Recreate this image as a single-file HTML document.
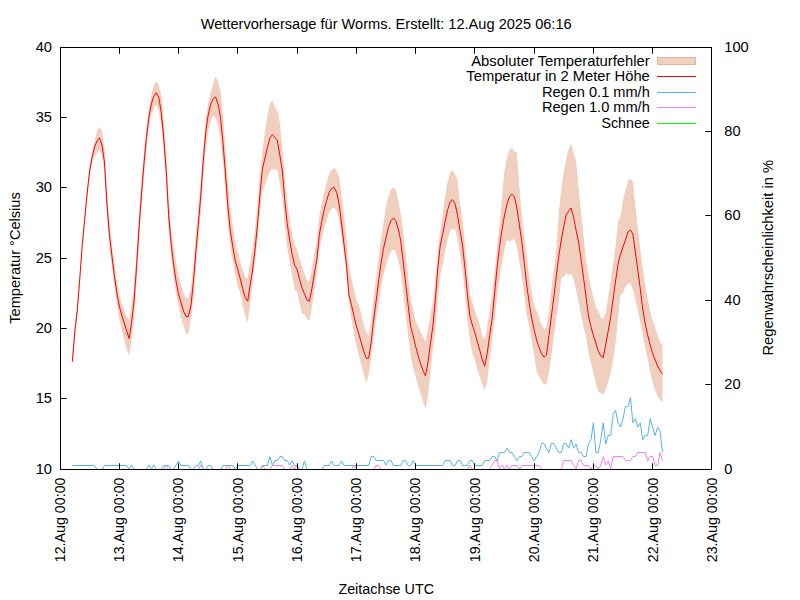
<!DOCTYPE html>
<html lang="de">
<head>
<meta charset="utf-8">
<title>Wettervorhersage für Worms</title>
<style>
html,body{margin:0;padding:0;background:#fff;}
body{width:800px;height:600px;overflow:hidden;font-family:"Liberation Sans",sans-serif;}
svg{display:block;}
svg text{font-family:"Liberation Sans",sans-serif;fill:#000;}
.ln{fill:none;stroke-width:1;stroke-linejoin:miter;stroke-linecap:butt;}
</style>
</head>
<body>
<svg width="800" height="600" viewBox="0 0 800 600">
<rect width="800" height="600" fill="#ffffff"/>
<!-- Absoluter Temperaturfehler -->
<polygon points="72.35,355.60 74.82,326.40 77.29,304.97 79.76,274.03 82.23,240.90 84.70,214.95 87.17,189.07 89.64,167.00 92.10,153.00 94.57,142.00 97.04,130.00 99.51,127.00 101.98,131.00 104.45,148.13 106.92,189.63 109.39,221.63 111.86,243.13 114.33,263.33 116.80,281.03 119.27,294.87 121.74,304.00 124.21,311.00 126.67,317.00 129.14,320.00 131.61,304.33 134.08,283.73 136.55,250.77 139.02,213.69 141.49,181.11 143.96,152.46 146.43,127.52 148.90,108.42 151.37,95.00 153.84,84.40 156.31,81.50 158.78,84.40 161.25,95.00 163.71,119.76 166.18,152.59 168.65,197.22 171.12,225.50 173.59,246.15 176.06,262.80 178.53,275.55 181.00,284.02 183.47,292.50 185.94,298.00 188.41,298.00 190.88,287.73 193.35,264.94 195.82,235.32 198.29,208.87 200.75,181.32 203.22,147.50 205.69,119.77 208.16,102.87 210.63,92.50 213.10,83.75 215.57,76.25 218.04,82.00 220.51,91.00 222.98,116.00 225.45,147.22 227.92,182.53 230.39,208.72 232.86,226.57 235.32,242.60 237.79,252.12 240.26,262.00 242.73,269.40 245.20,277.00 247.67,278.50 250.14,262.55 252.61,248.29 255.08,228.21 257.55,204.35 260.02,174.07 262.49,150.00 264.96,132.00 267.43,116.00 269.90,103.75 272.36,100.25 274.83,107.50 277.30,110.60 279.77,122.00 282.24,147.50 284.71,177.71 287.18,202.51 289.65,219.30 292.12,234.14 294.59,244.87 297.06,249.37 299.53,258.75 302.00,266.00 304.47,273.75 306.94,280.60 309.40,281.00 311.87,268.67 314.34,254.08 316.81,240.88 319.28,216.42 321.75,203.33 324.22,191.50 326.69,182.50 329.16,173.50 331.63,169.75 334.10,167.80 336.57,170.50 339.04,176.50 341.51,194.50 343.98,215.67 346.44,236.98 348.91,267.68 351.38,277.74 353.85,289.28 356.32,299.75 358.79,304.50 361.26,314.00 363.73,325.00 366.20,331.40 368.67,335.85 371.14,319.99 373.61,297.58 376.08,278.20 378.55,258.17 381.01,239.41 383.48,223.00 385.95,206.50 388.42,196.00 390.89,189.25 393.36,187.30 395.83,190.00 398.30,201.25 400.77,214.00 403.24,232.00 405.71,254.69 408.18,277.05 410.65,299.35 413.12,310.01 415.59,320.80 418.05,326.30 420.52,331.90 422.99,336.60 425.46,341.40 427.93,329.89 430.40,314.66 432.87,302.05 435.34,280.02 437.81,252.47 440.28,230.80 442.75,213.80 445.22,195.40 447.69,181.20 450.16,172.75 452.62,170.20 455.09,174.90 457.56,179.80 460.03,203.90 462.50,219.50 464.97,243.68 467.44,271.29 469.91,293.43 472.38,303.03 474.85,310.75 477.32,317.50 479.79,325.00 482.26,335.50 484.73,339.25 487.20,327.01 489.66,310.29 492.13,295.45 494.60,271.22 497.07,247.09 499.54,226.20 502.01,196.80 504.48,170.25 506.95,158.30 509.42,150.00 511.89,147.70 514.36,151.40 516.83,152.50 519.30,185.80 521.77,215.20 524.24,237.20 526.70,255.00 529.17,276.00 531.64,292.50 534.11,305.60 536.58,310.75 539.05,317.50 541.52,325.00 543.99,328.75 546.46,328.00 548.93,310.00 551.40,288.75 553.87,268.75 556.34,250.00 558.81,212.00 561.27,190.00 563.74,171.70 566.21,158.80 568.68,148.75 571.15,143.80 573.62,153.30 576.09,160.70 578.56,188.20 581.03,212.00 583.50,236.00 585.97,260.00 588.44,275.00 590.91,286.25 593.38,297.50 595.85,307.50 598.31,311.00 600.78,317.50 603.25,319.00 605.72,312.50 608.19,297.50 610.66,281.50 613.13,263.50 615.60,245.00 618.07,222.00 620.54,216.00 623.01,200.00 625.48,190.00 627.95,181.00 630.42,178.50 632.89,182.00 635.35,205.00 637.82,228.00 640.29,249.00 642.76,268.70 645.23,284.70 647.70,299.30 650.17,310.80 652.64,320.00 655.11,327.30 657.58,335.30 660.05,342.00 662.52,344.70 662.52,402.50 660.05,400.00 657.58,396.00 655.11,390.00 652.64,382.00 650.17,372.00 647.70,359.30 645.23,347.30 642.76,334.80 640.29,322.00 637.82,310.00 635.35,299.30 632.89,290.00 630.42,283.00 627.95,283.60 625.48,286.50 623.01,292.70 620.54,294.00 618.07,319.00 615.60,343.00 613.13,360.00 610.66,373.00 608.19,382.00 605.72,389.50 603.25,394.75 600.78,393.25 598.31,391.75 595.85,383.50 593.38,373.00 590.91,362.50 588.44,352.00 585.97,337.00 583.50,326.50 581.03,315.00 578.56,302.50 576.09,290.00 573.62,278.75 571.15,273.50 568.68,275.00 566.21,273.50 563.74,276.60 561.27,278.10 558.81,302.50 556.34,317.00 553.87,337.00 551.40,355.00 548.93,373.00 546.46,383.50 543.99,385.00 541.52,380.50 539.05,376.00 536.58,371.50 534.11,355.00 531.64,340.00 529.17,326.50 526.70,314.50 524.24,295.30 521.77,276.69 519.30,261.50 516.83,247.16 514.36,239.00 511.89,240.50 509.42,241.20 506.95,240.00 504.48,250.00 502.01,263.17 499.54,277.83 497.07,296.80 494.60,319.00 492.13,338.50 489.66,359.50 487.20,382.00 484.73,390.25 482.26,384.25 479.79,376.75 477.32,369.25 474.85,359.50 472.38,353.50 469.91,340.00 467.44,320.50 464.97,293.64 462.50,269.94 460.03,255.16 457.56,239.30 455.09,229.40 452.62,229.10 450.16,230.80 447.69,239.30 445.22,250.74 442.75,263.65 440.28,275.02 437.81,298.21 435.34,329.50 432.87,350.00 430.40,372.25 427.93,397.60 425.46,408.70 422.99,401.50 420.52,393.60 418.05,384.90 415.59,376.20 413.12,367.50 410.65,355.60 408.18,335.80 405.71,314.88 403.24,292.89 400.77,272.06 398.30,260.17 395.83,251.98 393.36,249.25 390.89,251.61 388.42,257.27 385.95,266.12 383.48,274.54 381.01,287.55 378.55,303.00 376.08,318.75 373.61,337.75 371.14,358.30 368.67,374.20 366.20,383.30 363.73,374.20 361.26,364.70 358.79,355.20 356.32,345.70 353.85,333.00 351.38,318.75 348.91,301.30 346.44,272.22 343.98,253.96 341.51,236.29 339.04,219.99 336.57,211.00 334.10,207.25 331.63,208.75 329.16,212.50 326.69,220.00 324.22,227.70 321.75,238.00 319.28,250.03 316.81,274.40 314.34,290.60 311.87,307.50 309.40,320.60 306.94,319.00 304.47,314.40 302.00,313.50 299.53,303.75 297.06,291.00 294.59,290.00 292.12,275.00 289.65,262.50 287.18,247.83 284.71,225.09 282.24,197.04 279.77,183.44 277.30,170.26 274.83,169.40 272.36,169.25 269.90,171.47 267.43,178.29 264.96,185.03 262.49,191.47 260.02,211.53 257.55,238.79 255.08,260.97 252.61,281.00 250.14,303.75 247.67,323.00 245.20,315.00 242.73,305.60 240.26,292.75 237.79,287.00 235.32,275.00 232.86,261.27 230.39,246.56 227.92,223.75 225.45,191.48 222.98,162.39 220.51,138.55 218.04,125.00 215.57,118.00 213.10,115.60 210.63,121.03 208.16,131.72 205.69,149.35 203.22,178.11 200.75,213.11 198.29,241.89 195.82,269.47 193.35,300.00 190.88,319.00 188.41,334.00 185.94,333.50 183.47,326.00 181.00,317.00 178.53,306.00 176.06,294.00 173.59,277.48 171.12,256.89 168.65,228.62 166.18,183.91 163.71,150.95 161.25,125.99 158.78,111.00 156.31,104.40 153.84,108.75 151.37,113.75 148.90,127.82 146.43,148.67 143.96,176.12 141.49,207.67 139.02,243.25 136.55,283.07 134.08,318.18 131.61,340.00 129.14,356.00 126.67,349.00 124.21,340.00 121.74,330.00 119.27,319.00 116.80,302.50 114.33,285.33 111.86,265.82 109.39,245.09 106.92,213.84 104.45,173.00 101.98,156.34 99.51,149.50 97.04,153.00 94.57,156.00 92.10,163.00 89.64,175.00 87.17,197.12 84.70,223.17 82.23,249.45 79.76,283.09 77.29,314.75 74.82,337.16 72.35,367.60" fill="#f0cfbf"/>
<!-- Temperatur in 2 Meter Höhe -->
<polyline class="ln" stroke="#ff0000" points="72.35,361.60 74.82,331.90 77.29,310.02 79.76,278.72 82.23,245.29 84.70,219.13 87.17,193.12 89.64,171.00 92.10,157.00 94.57,147.00 97.04,140.80 99.51,137.80 101.98,145.00 104.45,162.00 106.92,203.16 109.39,234.68 111.86,255.63 114.33,275.28 116.80,292.50 119.27,306.00 121.74,315.00 124.21,323.00 126.67,331.00 129.14,338.50 131.61,322.50 134.08,301.00 136.55,266.74 139.02,228.13 141.49,193.92 143.96,163.74 146.43,137.50 148.90,117.50 151.37,103.75 153.84,96.30 156.31,92.75 158.78,97.50 161.25,112.50 163.71,137.50 166.18,170.53 168.65,215.33 171.12,243.73 173.59,264.49 176.06,281.20 178.53,294.00 181.00,302.50 183.47,311.00 185.94,316.50 188.41,316.50 190.88,306.00 193.35,282.60 195.82,252.10 198.29,224.62 200.75,195.97 203.22,161.12 205.69,132.50 208.16,115.00 210.63,104.40 213.10,99.00 215.57,96.90 218.04,103.75 220.51,117.71 222.98,142.62 225.45,173.19 227.92,207.05 230.39,231.32 232.86,247.11 235.32,261.25 237.79,269.40 240.26,278.75 242.73,288.75 245.20,297.50 247.67,301.25 250.14,285.00 252.61,270.00 255.08,248.96 257.55,224.13 260.02,193.12 262.49,168.75 264.96,158.00 267.43,147.50 269.90,138.00 272.36,134.75 274.83,137.50 277.30,140.25 279.77,155.00 282.24,170.00 284.71,199.41 287.18,223.59 289.65,239.93 292.12,254.46 294.59,265.00 297.06,269.40 299.53,278.75 302.00,288.00 304.47,293.75 306.94,300.00 309.40,301.25 311.87,288.75 314.34,273.75 316.81,260.00 319.28,235.00 321.75,221.50 324.22,209.50 326.69,200.50 329.16,192.25 331.63,188.50 334.10,187.30 336.57,192.25 339.04,203.50 341.51,223.00 343.98,244.00 346.44,264.87 348.91,295.00 351.38,304.50 353.85,315.60 356.32,325.90 358.79,333.80 361.26,342.50 363.73,351.20 366.20,358.30 368.67,358.30 371.14,342.50 373.61,320.30 376.08,301.30 378.55,281.83 381.01,263.87 383.48,248.50 385.95,238.00 388.42,227.50 390.89,220.75 393.36,218.00 395.83,220.75 398.30,229.00 400.77,241.00 403.24,262.00 405.71,284.20 408.18,305.40 410.65,326.30 413.12,335.80 415.59,346.10 418.05,355.60 420.52,363.50 422.99,370.70 425.46,375.70 427.93,362.70 430.40,343.75 432.87,326.30 435.34,299.43 437.81,268.16 440.28,245.00 442.75,233.70 445.22,220.90 447.69,209.60 450.16,201.80 452.62,199.70 455.09,203.90 457.56,215.20 460.03,230.80 462.50,245.00 464.97,268.12 467.44,294.71 469.91,316.00 472.38,325.00 474.85,332.50 477.32,341.50 479.79,350.50 482.26,359.50 484.73,366.25 487.20,353.50 489.66,335.50 492.13,319.00 494.60,293.11 497.07,267.70 499.54,246.30 502.01,229.80 504.48,215.20 506.95,204.20 509.42,196.80 511.89,194.10 514.36,196.80 516.83,207.80 519.30,224.30 521.77,241.50 524.24,262.50 526.70,285.00 529.17,303.00 531.64,318.00 534.11,329.50 536.58,340.00 539.05,347.50 541.52,353.50 543.99,357.25 546.46,355.00 548.93,335.50 551.40,316.00 553.87,297.00 556.34,276.25 558.81,256.25 561.27,240.00 563.74,226.70 566.21,214.75 568.68,211.10 571.15,208.00 573.62,217.50 576.09,230.30 578.56,242.00 581.03,258.75 583.50,277.50 585.97,296.25 588.44,316.00 590.91,326.50 593.38,335.50 595.85,343.00 598.31,351.25 600.78,355.75 603.25,357.70 605.72,344.50 608.19,331.00 610.66,317.00 613.13,299.00 615.60,281.00 618.07,264.00 620.54,254.00 623.01,247.00 625.48,240.00 627.95,232.00 630.42,230.00 632.89,234.00 635.35,252.00 637.82,270.00 640.29,289.00 642.76,309.00 645.23,324.00 647.70,335.30 650.17,345.00 652.64,353.50 655.11,360.00 657.58,366.00 660.05,370.50 662.52,374.30"/>
<!-- Regen 0.1 mm/h -->
<polyline class="ln" stroke="#56b4e9" points="72.35,465.50 94.57,465.50 97.04,469.50 101.98,469.50 104.45,465.50 126.67,465.50 129.14,469.30 131.61,465.08 134.08,469.50 146.43,469.50 148.90,465.08 151.37,469.30 153.84,465.08 156.31,469.50 161.25,469.50 163.71,465.50 168.65,465.50 171.12,469.50 173.59,469.50 176.06,465.08 178.53,460.86 181.00,465.50 188.41,465.50 190.88,469.50 193.35,469.50 195.82,465.50 198.29,465.50 200.75,460.86 203.22,469.50 205.69,469.50 208.16,465.50 210.63,465.50 213.10,469.50 220.51,469.50 222.98,465.50 232.86,465.50 235.32,469.30 237.79,465.50 250.14,465.50 252.61,460.86 255.08,465.08 257.55,469.50 260.02,469.50 262.49,465.50 267.43,465.50 269.90,456.64 272.36,465.08 274.83,460.50 277.30,460.50 279.77,456.50 282.24,456.50 284.71,460.50 287.18,460.50 289.65,465.08 292.12,460.86 294.59,465.50 297.06,465.50 299.53,469.50 302.00,469.50 304.47,460.86 306.94,469.50 321.75,469.50 324.22,465.50 329.16,465.50 331.63,460.86 334.10,465.50 339.04,465.50 341.51,460.86 343.98,465.50 368.67,465.50 371.14,456.50 373.61,456.50 376.08,460.50 383.48,460.50 385.95,465.08 388.42,460.50 390.89,460.50 393.36,465.50 400.77,465.50 403.24,460.50 405.71,460.50 408.18,465.50 410.65,465.50 413.12,460.86 415.59,465.50 442.75,465.50 445.22,460.50 450.16,460.50 452.62,465.50 455.09,465.50 457.56,460.50 460.03,460.50 462.50,465.50 467.44,465.50 469.91,460.50 472.38,460.50 474.85,465.50 482.26,465.50 484.73,460.50 489.66,460.50 492.13,456.50 494.60,456.50 497.07,460.86 499.54,452.50 504.48,452.50 506.95,448.20 509.42,452.50 511.89,452.50 514.36,456.64 516.83,460.86 519.30,456.50 521.77,456.50 524.24,452.50 529.17,452.50 531.64,456.64 534.11,460.86 536.58,456.64 539.05,452.42 541.52,443.50 543.99,443.50 546.46,448.20 548.93,452.42 551.40,443.50 553.87,443.50 556.34,448.20 558.81,452.50 561.27,452.50 563.74,443.50 566.21,443.50 568.68,448.20 571.15,439.76 573.62,448.20 576.09,443.98 578.56,452.50 581.03,452.50 583.50,456.50 585.97,456.50 588.44,443.98 590.91,439.76 593.38,422.88 595.85,452.50 598.31,452.50 600.78,439.76 603.25,422.88 605.72,443.98 608.19,435.50 610.66,435.50 613.13,414.44 615.60,410.22 618.07,422.88 620.54,427.10 623.01,418.66 625.48,406.50 627.95,406.50 630.42,397.56 632.89,422.88 635.35,418.66 637.82,427.10 640.29,422.88 642.76,439.76 645.23,435.50 647.70,435.50 650.17,418.66 652.64,427.10 655.11,435.54 657.58,427.10 660.05,431.32 662.52,452.42"/>
<!-- Regen 1.0 mm/h -->
<polyline class="ln" stroke="#ee82ee" points="72.35,469.50 163.71,469.50 166.18,465.08 168.65,469.50 198.29,469.50 200.75,465.08 203.22,469.50 225.45,469.50 227.92,465.08 230.39,469.50 260.02,469.50 262.49,465.08 264.96,469.50 269.90,469.50 272.36,465.50 282.24,465.50 284.71,469.50 289.65,469.50 292.12,465.08 294.59,469.30 297.06,465.08 299.53,469.50 351.38,469.50 353.85,465.08 356.32,469.50 373.61,469.50 376.08,465.50 378.55,465.50 381.01,469.50 467.44,469.50 469.91,465.08 472.38,469.50 489.66,469.50 492.13,465.08 494.60,460.50 497.07,460.50 499.54,469.30 502.01,465.08 504.48,469.30 506.95,465.08 509.42,469.30 511.89,465.50 516.83,465.50 519.30,469.30 521.77,465.50 539.05,465.50 541.52,469.50 561.27,469.50 563.74,460.50 571.15,460.50 573.62,465.08 576.09,469.30 578.56,460.50 581.03,460.50 583.50,465.50 588.44,465.50 590.91,469.30 593.38,465.50 595.85,465.50 598.31,469.30 600.78,465.08 603.25,456.64 605.72,465.08 608.19,460.86 610.66,469.30 613.13,456.50 623.01,456.50 625.48,460.50 630.42,460.50 632.89,456.50 635.35,456.50 637.82,452.50 645.23,452.50 647.70,460.86 650.17,456.50 652.64,456.50 655.11,465.50 657.58,465.50 660.05,452.42 662.52,460.86"/>
<!-- Schnee -->
<polyline class="ln" stroke="#00ff00" points="72.35,469.50 662.52,469.50"/>
<!-- Legende -->
<rect x="657.5" y="57.5" width="38" height="7" fill="#f0cfbf" stroke="#e4b59c" stroke-width="1"/>
<path class="ln" stroke="#ff0000" d="M657 76.5H696"/>
<path class="ln" stroke="#56b4e9" d="M657 92.5H696"/>
<path class="ln" stroke="#ee82ee" d="M657 107.5H696"/>
<path class="ln" stroke="#00ff00" d="M657 123.5H696"/>
<!-- Achsen -->
<path class="ln" stroke="#000" d="M119.5 469.5v-6.2M119.5 47.5v6.2M178.5 469.5v-6.2M178.5 47.5v6.2M237.5 469.5v-6.2M237.5 47.5v6.2M297.5 469.5v-6.2M297.5 47.5v6.2M356.5 469.5v-6.2M356.5 47.5v6.2M415.5 469.5v-6.2M415.5 47.5v6.2M474.5 469.5v-6.2M474.5 47.5v6.2M534.5 469.5v-6.2M534.5 47.5v6.2M593.5 469.5v-6.2M593.5 47.5v6.2M652.5 469.5v-6.2M652.5 47.5v6.2M60.5 117.5h6.2M60.5 187.5h6.2M60.5 258.5h6.2M60.5 328.5h6.2M60.5 398.5h6.2M711.5 131.5h-6.2M711.5 215.5h-6.2M711.5 300.5h-6.2M711.5 384.5h-6.2"/>
<rect x="60.5" y="47.5" width="651.0" height="422.0" fill="none" stroke="#000" stroke-width="1" shape-rendering="crispEdges"/>
<g>
<text transform="translate(386.20 28.50) scale(1.0285 1)" text-anchor="middle" font-size="14.20">Wettervorhersage für Worms. Erstellt: 12.Aug 2025 06:16</text>
<text transform="translate(386.20 594.20) scale(1.0110 1)" text-anchor="middle" font-size="14.20">Zeitachse UTC</text>
<text transform="translate(19.90 258.00) rotate(-90) scale(1.0285 1)" text-anchor="middle" font-size="14.20">Temperatur °Celsius</text>
<text transform="translate(772.90 257.70) rotate(-90) scale(1.0380 1)" text-anchor="middle" font-size="14.20">Regenwahrscheinlichkeit in %</text>
<text transform="translate(52.00 52.40) scale(1.0320 1)" text-anchor="end" font-size="14.20">40</text>
<text transform="translate(52.00 122.40) scale(1.0320 1)" text-anchor="end" font-size="14.20">35</text>
<text transform="translate(52.00 192.40) scale(1.0320 1)" text-anchor="end" font-size="14.20">30</text>
<text transform="translate(52.00 263.40) scale(1.0320 1)" text-anchor="end" font-size="14.20">25</text>
<text transform="translate(52.00 333.40) scale(1.0320 1)" text-anchor="end" font-size="14.20">20</text>
<text transform="translate(52.00 403.40) scale(1.0320 1)" text-anchor="end" font-size="14.20">15</text>
<text transform="translate(52.00 474.40) scale(1.0320 1)" text-anchor="end" font-size="14.20">10</text>
<text transform="translate(724.30 52.40) scale(1.0320 1)" text-anchor="start" font-size="14.20">100</text>
<text transform="translate(724.30 136.40) scale(1.0320 1)" text-anchor="start" font-size="14.20">80</text>
<text transform="translate(724.30 220.40) scale(1.0320 1)" text-anchor="start" font-size="14.20">60</text>
<text transform="translate(724.30 305.40) scale(1.0320 1)" text-anchor="start" font-size="14.20">40</text>
<text transform="translate(724.30 389.40) scale(1.0320 1)" text-anchor="start" font-size="14.20">20</text>
<text transform="translate(724.30 474.40) scale(1.0320 1)" text-anchor="start" font-size="14.20">0</text>
<text transform="translate(64.90 477.50) rotate(-90) scale(1.0030 1)" text-anchor="end" font-size="14.20">12.Aug 00:00</text>
<text transform="translate(124.16 477.50) rotate(-90) scale(1.0030 1)" text-anchor="end" font-size="14.20">13.Aug 00:00</text>
<text transform="translate(183.43 477.50) rotate(-90) scale(1.0030 1)" text-anchor="end" font-size="14.20">14.Aug 00:00</text>
<text transform="translate(242.69 477.50) rotate(-90) scale(1.0030 1)" text-anchor="end" font-size="14.20">15.Aug 00:00</text>
<text transform="translate(301.95 477.50) rotate(-90) scale(1.0030 1)" text-anchor="end" font-size="14.20">16.Aug 00:00</text>
<text transform="translate(361.22 477.50) rotate(-90) scale(1.0030 1)" text-anchor="end" font-size="14.20">17.Aug 00:00</text>
<text transform="translate(420.48 477.50) rotate(-90) scale(1.0030 1)" text-anchor="end" font-size="14.20">18.Aug 00:00</text>
<text transform="translate(479.75 477.50) rotate(-90) scale(1.0030 1)" text-anchor="end" font-size="14.20">19.Aug 00:00</text>
<text transform="translate(539.01 477.50) rotate(-90) scale(1.0030 1)" text-anchor="end" font-size="14.20">20.Aug 00:00</text>
<text transform="translate(598.27 477.50) rotate(-90) scale(1.0030 1)" text-anchor="end" font-size="14.20">21.Aug 00:00</text>
<text transform="translate(657.54 477.50) rotate(-90) scale(1.0030 1)" text-anchor="end" font-size="14.20">22.Aug 00:00</text>
<text transform="translate(716.80 477.50) rotate(-90) scale(1.0030 1)" text-anchor="end" font-size="14.20">23.Aug 00:00</text>
<text transform="translate(649.80 65.80) scale(1.0450 1)" text-anchor="end" font-size="14.20">Absoluter Temperaturfehler</text>
<text transform="translate(649.80 81.30) scale(1.0380 1)" text-anchor="end" font-size="14.20">Temperatur in 2 Meter Höhe</text>
<text transform="translate(649.80 96.80) scale(1.0290 1)" text-anchor="end" font-size="14.20">Regen 0.1 mm/h</text>
<text transform="translate(649.80 112.30) scale(1.0290 1)" text-anchor="end" font-size="14.20">Regen 1.0 mm/h</text>
<text transform="translate(649.80 127.80) scale(1.0030 1)" text-anchor="end" font-size="14.20">Schnee</text>
</g>
</svg>
</body>
</html>
